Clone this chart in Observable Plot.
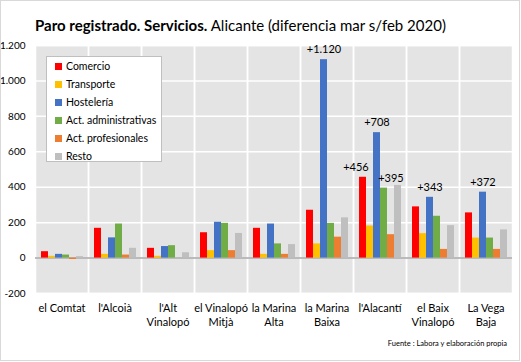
<!DOCTYPE html>
<html>
<head>
<meta charset="utf-8">
<script src="https://cdn.jsdelivr.net/npm/d3@7"></script>
<script src="https://cdn.jsdelivr.net/npm/@observablehq/plot@0.6"></script>
<style>
  html, body { margin: 0; padding: 0; background: #fff; }
  #wrap { position: relative; width: 521px; height: 362px; font-family: Lato, "Open Sans", sans-serif; color: #000; }
  #border { position: absolute; left: 0; top: 0; width: 518px; height: 359px; border: 1px solid #d9d9d9; pointer-events: none; }
  #title { position: absolute; left: 35px; top: 16px; font-size: 15px; white-space: nowrap; }
  #legend { position: absolute; left: 46px; top: 56px; width: 114px; height: 104px; background: #fff; border: 1px solid #bfbfbf; font-size: 10.5px; }
  .lrow { position: absolute; left: 8px; height: 18px; line-height: 18px; white-space: nowrap; }
  .lsw { display: inline-block; width: 7px; height: 7px; margin-right: 4px; vertical-align: 0px; }
  #foot { position: absolute; right: 14px; top: 339px; font-size: 7.5px; white-space: nowrap; }
  svg { position: absolute; left: 0; top: 0; }
</style>
</head>
<body>
<div id="wrap">
  <div id="title"><b>Paro registrado. Servicios.</b> Alicante (diferencia mar s/feb 2020)</div>
  <div id="legend"></div>
  <div id="foot">Fuente : Labora y elaboración propia</div>
  <div id="border"></div>
</div>
<script>
const regions = ["el Comtat","l'Alcoià","l'Alt Vinalopó","el Vinalopó Mitjà","la Marina Alta","la Marina Baixa","l'Alacantí","el Baix Vinalopó","La Vega Baja"];
const regionLabels = ["el Comtat","l'Alcoià","l'Alt\nVinalopó","el Vinalopó\nMitjà","la Marina\nAlta","la Marina\nBaixa","l'Alacantí","el Baix\nVinalopó","La Vega\nBaja"];
const series = ["Comercio","Transporte","Hostelería","Act. administrativas","Act. profesionales","Resto"];
const colors = ["#ff0000","#ffc000","#4472c4","#70ad47","#ed7d31","#bfbfbf"];

const comercio        = [36, 168, 55, 143, 168, 270, 456, 289, 255];
const transporte      = [10, 21, 10, 42, 21, 80, 181, 138, 113];
const hosteleria      = [21, 114, 65, 202, 192, 1120, 708, 343, 372];
const administrativas = [17, 192, 70, 196, 80, 196, 395, 236, 113];
const profesionales   = [-8, 17, 0, 42, 21, 118, 132, 49, 49];
const resto           = [8, 55, 30, 139, 76, 227, 410, 183, 159];

const yTicks = [-200, 0, 200, 400, 600, 800, 1000, 1200];

const labelRegions = ["la Marina Baixa","l'Alacantí","l'Alacantí","l'Alacantí","el Baix Vinalopó","La Vega Baja"];
const labelSeries  = ["Hostelería","Hostelería","Comercio","Act. administrativas","Hostelería","Hostelería"];
const labelValues  = [1120, 708, 456, 395, 343, 372];
const labelTexts   = ["+1.120","+708","+456","+395","+343","+372"];

const seriesValues = [comercio, transporte, hosteleria, administrativas, profesionales, resto];
const data = [];
regions.forEach((r, i) => series.forEach((s, j) => data.push({region: r, serie: s, value: seriesValues[j][i]})));
const labels = labelRegions.map((r, i) => ({region: r, serie: labelSeries[i], value: labelValues[i], text: labelTexts[i]}));

const locale = d3.formatLocale({decimal: ",", thousands: ".", grouping: [3], currency: ["", "€"], minus: "-"});
const fmt = locale.format(",d");
const labelOf = new Map(regions.map((r, i) => [r, regionLabels[i]]));

const chart = Plot.plot({
  width: 521,
  height: 362,
  marginTop: 45,
  marginBottom: 69,
  marginLeft: 35,
  marginRight: 9,
  style: {fontFamily: "Lato, 'Open Sans', sans-serif", fontSize: "11px", background: "transparent", color: "#000"},
  fx: {domain: regions, paddingInner: 0, paddingOuter: 0, label: null, axis: null},
  x: {domain: series, paddingInner: 0, paddingOuter: 0.785, axis: null},
  y: {domain: [-200, 1200], label: null, axis: null},
  color: {domain: series, range: colors},
  marks: [
    Plot.frame({fill: "#e4e4e4"}),
    Plot.gridY({ticks: yTicks, stroke: "#fff", strokeOpacity: 1, strokeWidth: 1.5}),
    Plot.frame({stroke: "#fff", strokeWidth: 1.5}),
    Plot.ruleY([0], {stroke: "#a6a6a6", strokeWidth: 1.5}),
    Plot.barY(data, {fx: "region", x: "serie", y: "value", fill: "serie", inset: 0}),
    Plot.text(labels.filter(d => d.text !== "+456" && d.text !== "+395"), {fx: "region", x: "serie", y: "value", text: "text", dy: -10, fontSize: 11}),
    Plot.text(labels.filter(d => d.text === "+456"), {fx: "region", x: "serie", y: "value", text: "text", dy: -10, dx: -7, fontSize: 11}),
    Plot.text(labels.filter(d => d.text === "+395"), {fx: "region", x: "serie", y: "value", text: "text", dy: -10, dx: 7, fontSize: 11}),
    Plot.axisY({ticks: yTicks, tickSize: 0, tickPadding: 10, tickFormat: fmt, fontSize: 10, label: null}),
    Plot.axisFx({anchor: "bottom", tickSize: 0, tickPadding: 9, tickFormat: d => labelOf.get(d), lineHeight: 1.27, fontSize: 11, label: null})
  ]
});

const wrap = document.getElementById("wrap");
wrap.insertBefore(chart, wrap.firstChild);

const legend = document.getElementById("legend");
series.forEach((s, i) => {
  const row = document.createElement("div");
  row.className = "lrow";
  row.style.top = (i * 18) + "px";
  row.innerHTML = `<span class="lsw" style="background:${colors[i]}"></span>${s}`;
  legend.appendChild(row);
});
</script>
</body>
</html>
